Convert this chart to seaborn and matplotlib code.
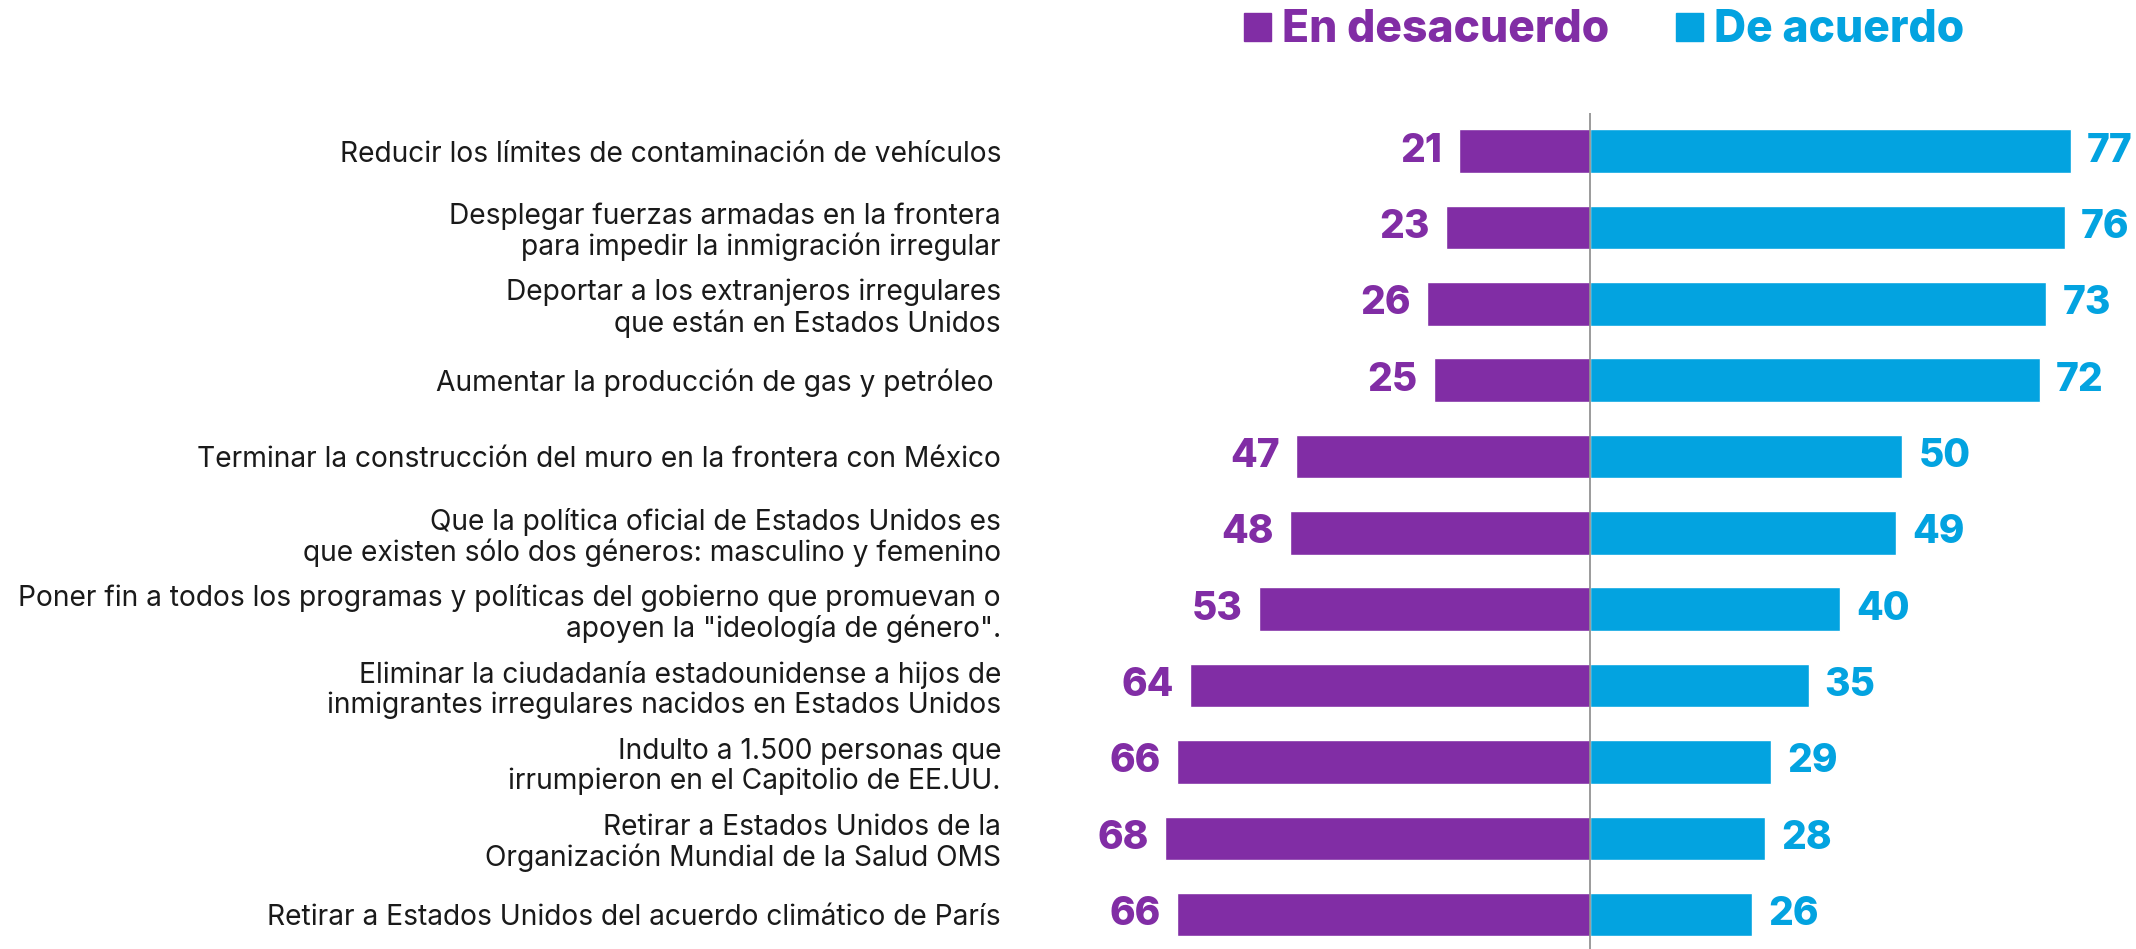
import pandas as pd
import matplotlib.pyplot as plt
import seaborn as sns
from matplotlib.patches import Patch

# data
categories = [
    "Reducir los límites de contaminación de vehículos",
    "Desplegar fuerzas armadas en la frontera\npara impedir la inmigración irregular",
    "Deportar a los extranjeros irregulares\nque están en Estados Unidos",
    "Aumentar la producción de gas y petróleo ",
    "Terminar la construcción del muro en la frontera con México",
    "Que la política oficial de Estados Unidos es\nque existen sólo dos géneros: masculino y femenino",
    "Poner fin a todos los programas y políticas del gobierno que promuevan o\napoyen la \"ideología de género\".",
    "Eliminar la ciudadanía estadounidense a hijos de\ninmigrantes irregulares nacidos en Estados Unidos",
    "Indulto a 1.500 personas que\nirrumpieron en el Capitolio de EE.UU.",
    "Retirar a Estados Unidos de la\nOrganización Mundial de la Salud OMS",
    "Retirar a Estados Unidos del acuerdo climático de París",
]
desacuerdo = [21, 23, 26, 25, 47, 48, 53, 64, 66, 68, 66]
de_acuerdo = [77, 76, 73, 72, 50, 49, 40, 35, 29, 28, 26]
groups = ["En desacuerdo", "De acuerdo"]

PURPLE = "#812DA5"
BLUE = "#03A3E0"

df = pd.DataFrame({
    "tema": categories * 2,
    "grupo": [groups[0]] * len(categories) + [groups[1]] * len(categories),
    "valor": [-v for v in desacuerdo] + de_acuerdo,
})

sns.set_style("white")
plt.rcParams["font.family"] = ["Inter", "DejaVu Sans"]

fig = plt.figure(figsize=(21.36, 9.49), dpi=100)
ax = fig.add_axes([1001 / 2136, 0, 1 - 1001 / 2136, (949 - 113) / 949])

sns.barplot(data=df, y="tema", x="valor", hue="grupo", order=categories,
            hue_order=groups, palette=[PURPLE, BLUE], dodge=False,
            width=0.57, orient="h", saturation=1, legend=False, ax=ax)

ax.set_xlim(-94.2, 87.4)
ax.set_ylim(10.45, -0.5)
ax.axvline(0, color="#8a8a8a", lw=1.2, zorder=3)

for i, (d, a) in enumerate(zip(desacuerdo, de_acuerdo)):
    ax.text(-d - 2.6, i, str(d), ha="right", va="center", color=PURPLE,
            fontsize=28, fontweight="heavy", clip_on=False)
    ax.text(a + 2.6, i, str(a), ha="left", va="center", color=BLUE,
            fontsize=28, fontweight="heavy", clip_on=False)

ax.set_xlabel("")
ax.set_ylabel("")
ax.set_xticks([])
ax.tick_params(axis="y", length=0, pad=0, labelsize=20.3, labelcolor="#1a1a1a")
for lab in ax.get_yticklabels():
    lab.set_linespacing(1.12)
for s in ax.spines.values():
    s.set_visible(False)

handles = [Patch(color=PURPLE), Patch(color=BLUE)]
fig.legend(handles, groups, loc="center", bbox_to_anchor=(1604 / 2136, 0.968),
           ncol=2, frameon=False, prop={"size": 32, "weight": "heavy"},
           labelcolor=[PURPLE, BLUE], handlelength=0.6, handleheight=0.6,
           handletextpad=0.25, columnspacing=1.5)

fig.savefig("out.png", dpi=100)
plt.close(fig)
